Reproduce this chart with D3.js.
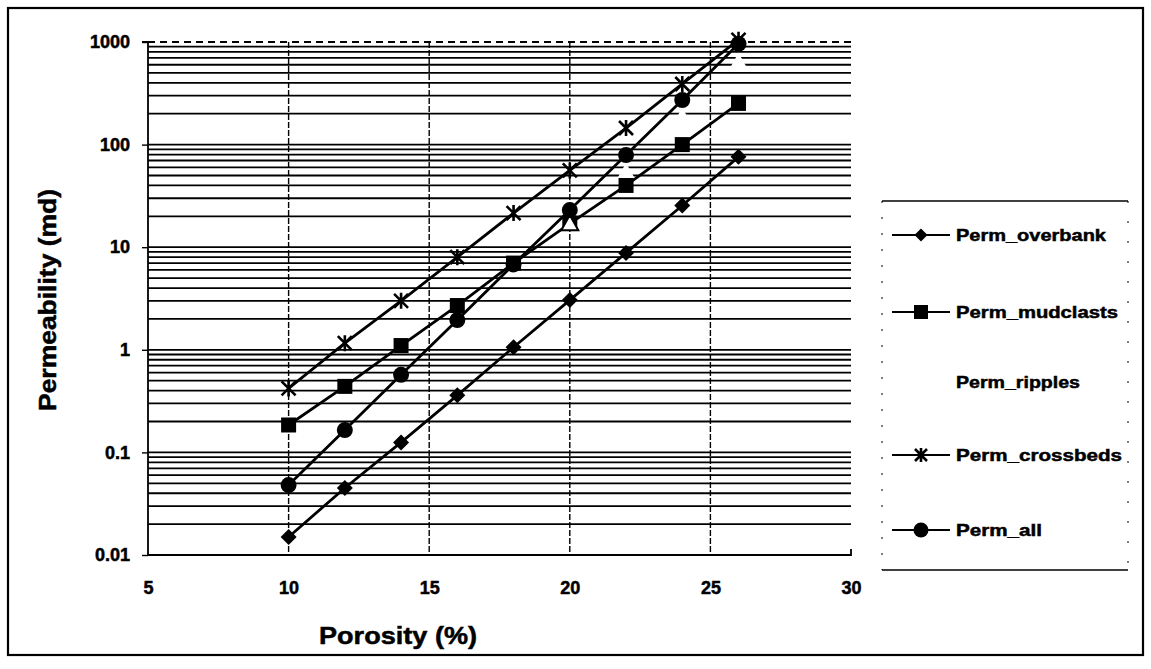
<!DOCTYPE html>
<html>
<head>
<meta charset="utf-8">
<script src="https://cdn.jsdelivr.net/npm/d3@7"></script>
<style>
  body { margin: 0; background: #fff; }
  text { font-family: "Liberation Sans", Arial, sans-serif; font-weight: bold; fill: #000; stroke: #000; stroke-width: 0.5px; }
</style>
</head>
<body>
<svg id="chart" width="1151" height="669"></svg>
<script>
// porosity (%) on the x axis
const porosity = [10, 12, 14, 16, 18, 20, 22, 24, 26];

// permeability (md) per facies
const permOverbank  = [0.015, 0.045, 0.125, 0.36, 1.06, 3.05, 8.8, 25.5, 76];
const permMudclasts = [0.185, 0.44, 1.1, 2.7, 7.0, 17, 40, 100, 252];
const permCrossbeds = [0.42, 1.16, 3.0, 8.0, 21.5, 56, 145, 390, 1050];
const permAll       = [0.048, 0.165, 0.57, 1.95, 6.8, 23, 79, 272, 960];
// ripples only shows as white markers, the one at 20 % keeps its outline
const ripplesPorosity = [20, 22, 24, 26];
const permRipples     = [17, 55, 190, 650];

const seriesNames = ["Perm_overbank", "Perm_mudclasts", "Perm_ripples", "Perm_crossbeds", "Perm_all"];

const xTicks = [5, 10, 15, 20, 25, 30];
const yTicks = [0.01, 0.1, 1, 10, 100, 1000];
const yTickLabels = ["0.01", "0.1", "1", "10", "100", "1000"];

const svg = d3.select("#chart");

// 外框
svg.append("rect")
  .attr("x", 8).attr("y", 8)
  .attr("width", 1135).attr("height", 647)
  .attr("fill", "none")
  .attr("stroke", "#000")
  .attr("stroke-width", 2.2);

const plotL = 148, plotR = 851, plotT = 42, plotB = 555;

const x = d3.scaleLinear().domain([5, 30]).range([plotL, plotR]);
const y = d3.scaleLog().domain([0.01, 1000]).range([plotB, plotT]);

// 横向网格：每个数量级 1..9
const gridVals = [];
for (let e = -2; e <= 2; e++) {
  for (let k = 1; k <= 9; k++) gridVals.push(k * Math.pow(10, e));
}
gridVals.push(1000);

const grid = svg.append("g");
grid.selectAll("line.h")
  .data(gridVals)
  .join("line")
  .attr("class", "h")
  .attr("x1", plotL).attr("x2", plotR)
  .attr("y1", d => y(d)).attr("y2", d => y(d))
  .attr("stroke", "#000")
  .attr("stroke-width", 1.8)
  .attr("stroke-dasharray", d => d === 1000 ? "7,5" : null);

// 纵向网格 (虚线)
grid.selectAll("line.v")
  .data(xTicks.filter(d => d > 5 && d < 30))
  .join("line")
  .attr("class", "v")
  .attr("x1", d => x(d)).attr("x2", d => x(d))
  .attr("y1", plotT).attr("y2", plotB)
  .attr("stroke", "#000")
  .attr("stroke-width", 1.4)
  .attr("stroke-dasharray", "6,2");

// axes
const yAxis = d3.axisLeft(y)
  .tickValues(yTicks)
  .tickFormat((d, i) => yTickLabels[i])
  .tickSize(6)
  .tickPadding(12);
const gy = svg.append("g").attr("transform", `translate(${plotL},0)`).call(yAxis);
gy.select(".domain").attr("stroke-width", 1.8).attr("d", `M-6,${plotT}H0V${plotB}`);
gy.selectAll(".tick line").attr("stroke-width", 1.4);
gy.selectAll(".tick text").attr("font-size", 18).attr("font-family", "Liberation Sans, Arial").attr("font-weight", "bold");

const xAxis = d3.axisBottom(x)
  .tickValues(xTicks)
  .tickSize(0)
  .tickPadding(26);
const gx = svg.append("g").attr("transform", `translate(0,${plotB})`).call(xAxis);
gx.select(".domain").attr("stroke-width", 1.8).attr("d", `M${plotL},0H${plotR}V-6`);
gx.selectAll(".tick text").attr("font-size", 18).attr("font-family", "Liberation Sans, Arial").attr("font-weight", "bold");

// axis titles
svg.append("text")
  .attr("x", 398).attr("y", 644)
  .attr("text-anchor", "middle")
  .attr("font-size", 24)
  .attr("textLength", 158)
  .attr("lengthAdjust", "spacingAndGlyphs")
  .text("Porosity (%)");

svg.append("text")
  .attr("transform", "translate(56,300) rotate(-90)")
  .attr("text-anchor", "middle")
  .attr("font-size", 24)
  .attr("textLength", 222)
  .attr("lengthAdjust", "spacingAndGlyphs")
  .text("Permeability (md)");

// markers
function diamond(g, cx, cy, r) {
  g.append("path").attr("d", `M${cx},${cy - r}L${cx + r},${cy}L${cx},${cy + r}L${cx - r},${cy}Z`).attr("fill", "#000");
}
function square(g, cx, cy, r) {
  g.append("rect").attr("x", cx - r).attr("y", cy - r).attr("width", 2 * r).attr("height", 2 * r).attr("fill", "#000");
}
function circle(g, cx, cy, r) {
  g.append("circle").attr("cx", cx).attr("cy", cy).attr("r", r).attr("fill", "#000");
}
function star(g, cx, cy, r) {
  g.append("path")
    .attr("d", `M${cx - r},${cy - r}L${cx + r},${cy + r}M${cx - r},${cy + r}L${cx + r},${cy - r}M${cx},${cy - r - 1}V${cy + r + 1}`)
    .attr("stroke", "#000").attr("stroke-width", 2.6).attr("fill", "none");
}
function triangle(g, cx, cy, r, outline) {
  g.append("path")
    .attr("d", `M${cx},${cy - r}L${cx + r},${cy + r * 0.8}L${cx - r},${cy + r * 0.8}Z`)
    .attr("fill", "#fff")
    .attr("stroke", outline ? "#000" : "none")
    .attr("stroke-width", 2);
}

const line = d3.line().x(d => x(d[0])).y(d => y(d[1]));

function drawSeries(xs, vals, marker, size) {
  const g = svg.append("g");
  const pts = xs.map((d, i) => [d, vals[i]]);
  g.append("path").attr("d", line(pts)).attr("fill", "none").attr("stroke", "#000").attr("stroke-width", 2.8);
  pts.forEach(p => marker(g, x(p[0]), y(p[1]), size));
}

drawSeries(porosity, permOverbank, diamond, 8);
drawSeries(porosity, permMudclasts, square, 7.5);
const gr = svg.append("g");
ripplesPorosity.forEach((d, i) => triangle(gr, x(d), y(permRipples[i]), 8.5, d === 20));
drawSeries(porosity, permCrossbeds, star, 7);
drawSeries(porosity, permAll, circle, 8);

// legend
const leg = svg.append("g");
leg.append("line").attr("x1", 882).attr("x2", 1128).attr("y1", 201).attr("y2", 201).attr("stroke", "#000").attr("stroke-width", 1.6);
leg.append("line").attr("x1", 882).attr("x2", 1128).attr("y1", 570).attr("y2", 570).attr("stroke", "#000").attr("stroke-width", 1.6);
leg.append("line").attr("x1", 882).attr("x2", 882).attr("y1", 201).attr("y2", 570).attr("stroke", "#000").attr("stroke-width", 1).attr("stroke-dasharray", "2,14");
leg.append("line").attr("x1", 1128).attr("x2", 1128).attr("y1", 201).attr("y2", 570).attr("stroke", "#000").attr("stroke-width", 1).attr("stroke-dasharray", "2,18");

const legY = [235, 312, 382, 455, 530];
const legLen = [150, 162, 124, 166, 86];
const legMarkers = [diamond, square, null, star, circle];
const legSizes = [6.5, 7, 0, 6, 7.5];
seriesNames.forEach((name, i) => {
  if (legMarkers[i]) {
    leg.append("line").attr("x1", 892).attr("x2", 950).attr("y1", legY[i]).attr("y2", legY[i]).attr("stroke", "#000").attr("stroke-width", 2.2);
    legMarkers[i](leg, 921, legY[i], legSizes[i]);
  }
  leg.append("text")
    .attr("x", 956).attr("y", legY[i] + 6)
    .attr("font-size", 17)
    .attr("textLength", legLen[i])
    .attr("lengthAdjust", "spacingAndGlyphs")
    .text(name);
});
</script>
</body>
</html>
